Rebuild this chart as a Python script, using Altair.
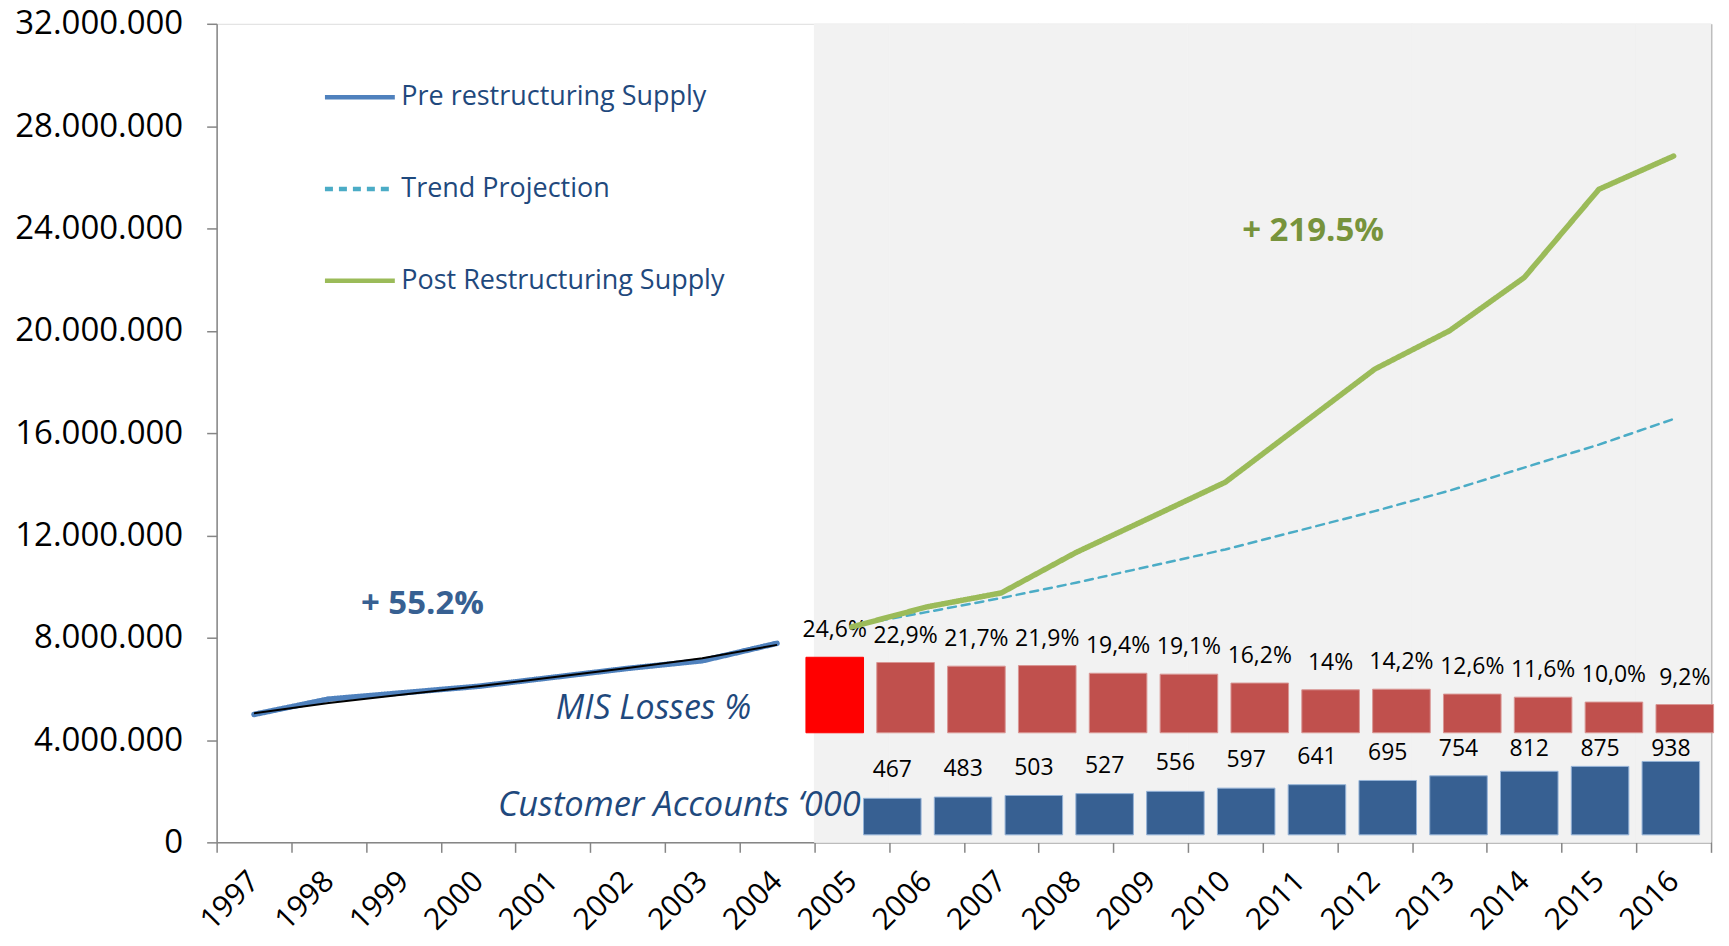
import altair as alt
import pandas as pd

# ---------------- data ----------------
years = ["1997", "1998", "1999", "2000", "2001", "2002", "2003", "2004", "2005", "2006",
         "2007", "2008", "2009", "2010", "2011", "2012", "2013", "2014", "2015", "2016"]

pre_years = ["1997", "1998", "1999", "2000", "2001", "2002", "2003", "2004"]
pre_supply = [5000000, 5600000, 5850000, 6100000, 6450000, 6800000, 7100000, 7780000]
pre_fit = [5050000, 5450000, 5780000, 6100000, 6450000, 6820000, 7200000, 7720000]

post_years = ["2005", "2006", "2007", "2008", "2009", "2010", "2011", "2012", "2013", "2014", "2015", "2016"]
trend_supply = [8470000, 9000000, 9550000, 10150000, 10800000, 11450000, 12200000, 12950000,
                13750000, 14650000, 15550000, 16550000]
post_supply = [8420000, 9200000, 9750000, 11330000, 12700000, 14080000, 16290000, 18500000,
               20000000, 22080000, 25530000, 26830000]

loss_periods = ["2004", "2005", "2006", "2007", "2008", "2009", "2010", "2011", "2012", "2013", "2014", "2015", "2016"]
loss_pct = [24.6, 22.9, 21.7, 21.9, 19.4, 19.1, 16.2, 14.0, 14.2, 12.6, 11.6, 10.0, 9.2]
loss_labels = ["24,6%", "22,9%", "21,7%", "21,9%", "19,4%", "19,1%", "16,2%", "14%", "14,2%",
               "12,6%", "11,6%", "10,0%", "9,2%"]

account_years = ["2005", "2006", "2007", "2008", "2009", "2010", "2011", "2012", "2013", "2014", "2015", "2016"]
accounts = [467, 483, 503, 527, 556, 597, 641, 695, 754, 812, 875, 938]

series_names = ["Pre restructuring Supply", "Trend Projection", "Post Restructuring Supply"]
series_colors = ["#4F81BD", "#4BACC6", "#9BBB59"]

FONT = "Open Sans"

# ---------------- tables ----------------
df_lines = pd.concat([
    pd.DataFrame({"year": pre_years, "supply": pre_supply, "series": series_names[0]}),
    pd.DataFrame({"year": post_years, "supply": trend_supply, "series": series_names[1]}),
    pd.DataFrame({"year": post_years, "supply": post_supply, "series": series_names[2]}),
], ignore_index=True)
df_fit = pd.DataFrame({"year": pre_years, "supply": pre_fit})
df_shade = pd.DataFrame({"year": post_years})
df_loss = pd.DataFrame({"period": loss_periods, "pct": loss_pct, "label": loss_labels})
df_acc = pd.DataFrame({"year": account_years, "accounts": accounts,
                       "label": [str(a) for a in accounts]})

xscale = alt.Scale(domain=years, paddingInner=0, paddingOuter=0)
yscale = alt.Scale(domain=[0, 32000000], nice=False)

xaxis = alt.Axis(title=None, labelAngle=-45, labelAlign="right", labelBaseline="middle",
                 labelFontSize=30, labelFont=FONT, labelColor="#000000", labelPadding=24,
                 tickBand="extent", tickSize=10, tickColor="#868686", tickWidth=1.5,
                 domainColor="#868686", domainWidth=1.5, grid=False)
yaxis = alt.Axis(title=None, values=[0, 4000000, 8000000, 12000000, 16000000, 20000000,
                                     24000000, 28000000, 32000000],
                 labelExpr="replace(replace(format(datum.value, ','), ',', '.'), ',', '.')",
                 labelFontSize=33, labelFont=FONT, labelColor="#000000", labelPadding=24,
                 tickSize=10, tickColor="#868686", tickWidth=1.5,
                 domainColor="#868686", domainWidth=1.5, grid=False)

# ---------------- background shade ----------------
bg = alt.Chart(df_shade).mark_rect(color="#F2F2F2", stroke="#F2F2F2", strokeWidth=1).encode(
    x=alt.X("year:O", scale=xscale, axis=None),
)

# ---------------- red bars (MIS losses) ----------------
red_x = alt.Scale(domain=loss_periods, range=[583.7, 1506.2], paddingInner=0.187, paddingOuter=0.0935)
red_y = alt.Scale(domain=[-35.7, 231.0], nice=False, zero=False)
red_base = alt.Chart(df_loss).encode(
    x=alt.X("period:O", scale=red_x, axis=None),
    y=alt.Y("pct:Q", scale=red_y,
            axis=alt.Axis(orient="right", labels=False, ticks=False, grid=False, title=None,
                          domainColor="#868686", domainWidth=1.5)),
)
red_bars = red_base.mark_bar(strokeWidth=1).encode(
    color=alt.condition(alt.datum.period == "2004", alt.value("#FF0000"), alt.value("#C0504D")),
    stroke=alt.condition(alt.datum.period == "2004", alt.value("#FF0000"), alt.value("#D99694")),
)
red_text = red_base.mark_text(dy=-27, baseline="middle", fontSize=23, font=FONT, color="#000000").encode(
    text="label:N"
)
red = alt.layer(red_bars, red_text)

# ---------------- blue bars (customer accounts) ----------------
blue_x = alt.Scale(domain=account_years, range=[641.4, 1492.2], paddingInner=0.187, paddingOuter=0.0935)
blue_y = alt.Scale(domain=[-95.6, 10362], nice=False, zero=False)
blue_bars = alt.Chart(df_acc).mark_bar(color="#376092", stroke="#95B3D7", strokeWidth=1).encode(
    x=alt.X("year:O", scale=blue_x, axis=None),
    y=alt.Y("accounts:Q", scale=blue_y, axis=None),
)
# labels sit above the bars but never climb higher than the inset's top
blue_text = alt.Chart(df_acc).transform_calculate(
    label_pos="min(datum.accounts + 357, 1094)"
).mark_text(baseline="middle", fontSize=23, font=FONT, color="#000000").encode(
    x=alt.X("year:O", scale=blue_x, axis=None),
    y=alt.Y("label_pos:Q", scale=blue_y, axis=None),
    text="label:N",
)
blue = alt.layer(blue_bars, blue_text)

# ---------------- lines ----------------
legend = alt.Legend(
    title=None, orient="none", legendX=106, legendY=36, symbolType="stroke",
    symbolSize=4900, labelFontSize=27, labelFont=FONT, labelColor="#1F497D",
    rowPadding=41, labelOffset=4, padding=0, symbolStrokeWidth=4.5, labelLimit=0,
)
lines = alt.Chart(df_lines).mark_line(strokeCap="round", strokeJoin="round").encode(
    x=alt.X("year:O", scale=xscale, axis=xaxis),
    y=alt.Y("supply:Q", scale=yscale, axis=yaxis),
    color=alt.Color("series:N", scale=alt.Scale(domain=series_names, range=series_colors), legend=legend),
    strokeDash=alt.StrokeDash("series:N", scale=alt.Scale(domain=series_names,
                                                          range=[[1, 0], [8, 6], [1, 0]]), legend=legend),
    strokeWidth=alt.condition(alt.datum.series == "Trend Projection", alt.value(2.5), alt.value(5.5)),
)
fit = alt.Chart(df_fit).mark_line(color="#000000", strokeWidth=2).encode(
    x=alt.X("year:O", scale=xscale),
    y=alt.Y("supply:Q", scale=yscale),
)

# ---------------- annotations ----------------
def note(text, year, value, color, size, style="normal", weight="normal", dx=0):
    return alt.Chart(pd.DataFrame({"year": [year], "value": [value], "t": [text]})).mark_text(
        font=FONT, fontSize=size, fontStyle=style, fontWeight=weight, color=color,
        align="center", baseline="middle", dx=dx
    ).encode(
        x=alt.X("year:O", scale=xscale),
        y=alt.Y("value:Q", scale=yscale),
        text="t:N",
    )

notes = alt.layer(
    note("+ 55.2%", "1999", 9300000, "#376092", 33, weight="bold", dx=19),
    note("+ 219.5%", "2011", 23900000, "#77933C", 33, weight="bold", dx=13),
    note("MIS Losses %", "2002", 5200000, "#1F497D", 34, style="italic", dx=26),
    note("Customer Accounts \u2018000", "2003", 1430000, "#1F497D", 34.5, style="italic", dx=-23),
)

main = alt.layer(lines, fit, notes)

chart = alt.layer(bg, red, blue, main).resolve_scale(
    x="independent", y="independent"
).properties(
    width=1497, height=820,
    autosize=alt.AutoSizeParams(type="none"),
    padding={"left": 209, "top": 15, "right": 10, "bottom": 95},
).configure_view(stroke=None).configure(background="white", font=FONT)

chart.save("out.html", embed_options={"renderer": "svg", "actions": False})
